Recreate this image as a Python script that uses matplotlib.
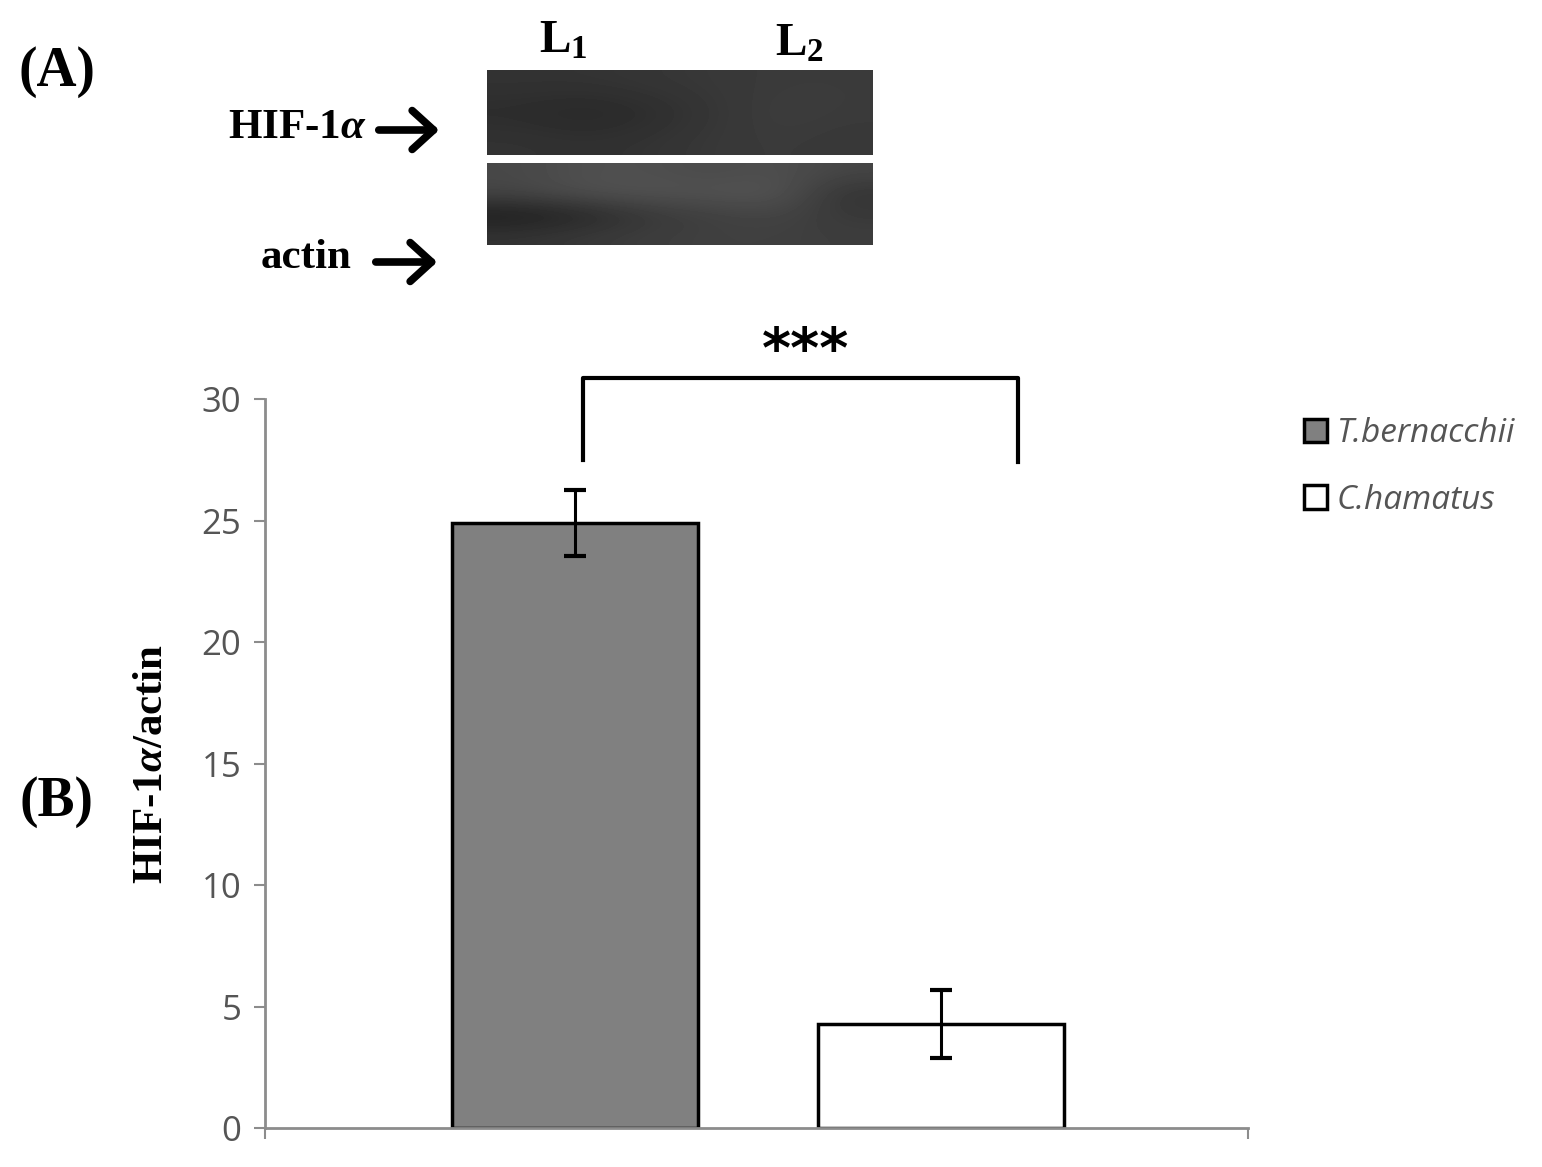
import numpy as np
import matplotlib.pyplot as plt
from matplotlib.patches import FancyArrowPatch

plt.rcParams['mathtext.fontset'] = 'custom'
plt.rcParams['mathtext.rm'] = 'Liberation Serif:bold'
plt.rcParams['mathtext.bf'] = 'Liberation Serif:bold'
plt.rcParams['mathtext.it'] = 'Liberation Serif:bold:italic'

# Data
species = ['T.bernacchii', 'C.hamatus']
means = [24.9, 4.3]
errors = [1.35, 1.4]
bar_colors = ['#808080', '#ffffff']
yticks = [0, 5, 10, 15, 20, 25, 30]

# blot band intensity (rough gray levels, 0=black 1=white)
blot_top = np.array([[0.20, 0.20, 0.21, 0.22, 0.23, 0.23],
                     [0.17, 0.15, 0.17, 0.21, 0.24, 0.23],
                     [0.20, 0.19, 0.20, 0.22, 0.23, 0.22]])
blot_bot = np.array([[0.28, 0.31, 0.31, 0.29, 0.31, 0.27],
                     [0.27, 0.31, 0.32, 0.32, 0.33, 0.20],
                     [0.11, 0.15, 0.22, 0.25, 0.27, 0.22],
                     [0.20, 0.22, 0.24, 0.25, 0.25, 0.24]])

fig = plt.figure(figsize=(15.42, 11.67), dpi=100)

# ---- panel B: bar chart ----
ax = fig.add_axes([0.1719, 0.0334, 0.6375, 0.6247])
x = np.arange(len(species))
ax.bar(x, means, width=0.672, color=bar_colors, edgecolor='black',
       linewidth=2.5, label=species, zorder=2)
ax.errorbar(x, means, yerr=errors, fmt='none', ecolor='black',
            elinewidth=2.2, capsize=8, capthick=3, zorder=3)
ax.set_xlim(-0.847, 1.839)
ax.set_ylim(0, 30)
ax.set_yticks(yticks)
ax.set_xticks([-0.847, 1.839])
ax.set_xticklabels([])
for s in ['top', 'right']:
    ax.spines[s].set_visible(False)
for s in ['left', 'bottom']:
    ax.spines[s].set_color('#8c8c8c')
    ax.spines[s].set_linewidth(2)
ax.tick_params(axis='y', colors='#8c8c8c', length=8, width=1.5,
               labelcolor='#555555', labelsize=25, pad=9)
ax.tick_params(axis='x', colors='#8c8c8c', length=8, width=1.5)
for lab in ax.get_yticklabels():
    lab.set_family('Open Sans')
ax.set_ylabel('HIF-1$\\mathit{\\alpha}$/actin', family='Liberation Serif',
              fontweight='bold', fontsize=31, labelpad=22)

# significance bracket
ax.plot([0.022, 0.022, 1.21, 1.21], [27.5, 30.86, 30.86, 27.4], color='black',
        lw=3, clip_on=False)
ax.text(0.63, 31.95, '***', ha='center', va='center', fontsize=40,
        fontweight='bold', family='DejaVu Sans')

leg = fig.legend(loc='upper left', bbox_to_anchor=(0.826, 0.668), frameon=False,
                 handlelength=0.7, handleheight=0.7, handletextpad=0.3,
                 labelspacing=1.0, prop={'family': 'Open Sans', 'style': 'italic',
                                         'size': 24})
for t in leg.get_texts():
    t.set_color('#555555')

# ---- panel A: blot ----
bt = fig.add_axes([487 / 1542, 1 - 155 / 1167, 386 / 1542, 85 / 1167])
bt.imshow(blot_top, cmap='gray', vmin=0, vmax=1, aspect='auto',
          interpolation='bicubic')
bt.axis('off')
bb = fig.add_axes([487 / 1542, 1 - 245 / 1167, 386 / 1542, 82 / 1167])
bb.imshow(blot_bot, cmap='gray', vmin=0, vmax=1, aspect='auto',
          interpolation='bicubic')
bb.axis('off')

serif = 'Liberation Serif'
fig.text(57 / 1542, 1 - 72 / 1167, '(A)', fontsize=40, fontweight='bold',
         family=serif, ha='center', va='center')
fig.text(57 / 1542, 1 - 802 / 1167, '(B)', fontsize=40, fontweight='bold',
         family=serif, ha='center', va='center')
fig.text(563 / 1542, 1 - 42 / 1167, 'L$_\\mathbf{1}$', fontsize=34, fontweight='bold',
         family=serif, ha='center', va='center')
fig.text(800 / 1542, 1 - 45 / 1167, 'L$_\\mathbf{2}$', fontsize=34, fontweight='bold',
         family=serif, ha='center', va='center')
fig.text(367 / 1542, 1 - 128 / 1167, 'HIF-1$\\mathit{\\alpha}$', fontsize=31,
         fontweight='bold', family=serif, ha='right', va='center')
fig.text(351 / 1542, 1 - 258 / 1167, 'actin', fontsize=31, fontweight='bold',
         family=serif, ha='right', va='center')
for (x0, x1, yy) in [(376, 442, 130), (373, 440, 262)]:
    fig.add_artist(FancyArrowPatch(
        (x0 / 1542, 1 - yy / 1167), (x1 / 1542, 1 - yy / 1167),
        transform=fig.transFigure, arrowstyle='->,head_length=0.55,head_width=0.5',
        mutation_scale=28, lw=5.5, color='black'))

plt.savefig('out.png', dpi=100)
